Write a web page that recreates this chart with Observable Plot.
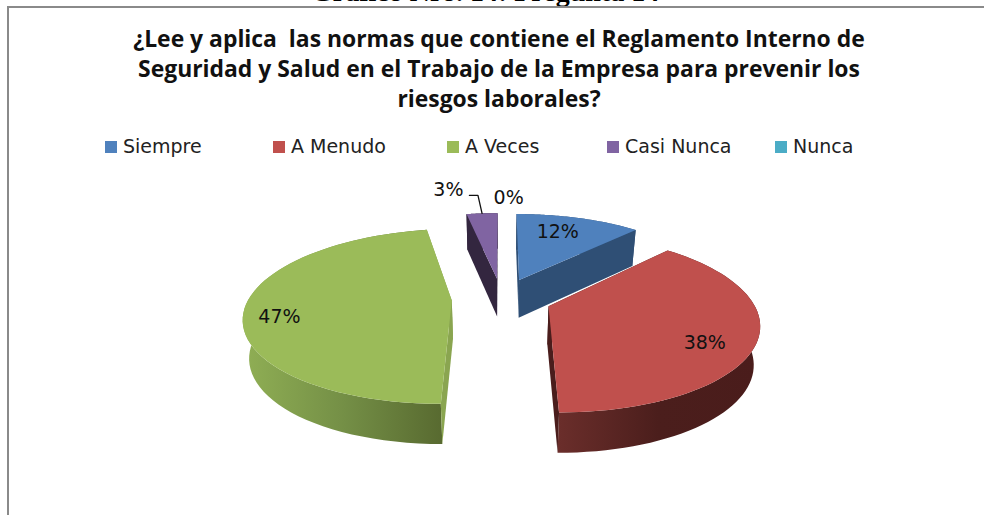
<!DOCTYPE html>
<html><head><meta charset="utf-8">
<script src="https://cdn.jsdelivr.net/npm/d3@7"></script>
<script src="https://cdn.jsdelivr.net/npm/@observablehq/plot@0.6"></script>
<style>
html,body{margin:0;padding:0;background:#fff;overflow:hidden}
#page{position:relative;width:984px;height:515px;overflow:hidden}
#clipped{position:absolute;left:311px;top:-24px;font:bold 28px "Liberation Serif";color:#000;white-space:nowrap}
#frame{position:absolute;left:7px;top:6px;width:990px;height:520px;border:2px solid #8a8a8a;box-sizing:border-box}
#title{position:absolute;left:0;width:998px;top:24px;text-align:center;font:bold 22.9px/30.2px "Open Sans";color:#111;white-space:pre}
#legend span{position:absolute;top:134px;font:19px/24px "DejaVu Sans";color:#222;white-space:nowrap}
#legend i{position:absolute;top:141px;width:12px;height:12px}
#chart{position:absolute;left:0;top:165px}
</style></head><body>
<div id="page">
<div id="clipped">Gráfico Nro. 14: Pregunta 14</div>
<div id="frame"></div>
<div id="title"></div>
<div id="legend"></div>
<div id="chart"></div>
</div>
<script>
const titleLines = ["¿Lee y aplica  las normas que contiene el Reglamento Interno de","Seguridad y Salud en el Trabajo de la Empresa para prevenir los","riesgos laborales?"];
const categories = ["Siempre","A Menudo","A Veces","Casi Nunca","Nunca"];
const values = [12,38,47,3,0];
const colors = ["#4f81bd","#c0504d","#9bbb59","#8064a2","#4bacc6"];
const sideColors = ["#2f4f75","#4a1d1c","#8aa550","#33263f","#2e6b7b"];
const legendX = [105,273,447,607,775];
const labelShift = [-3,8,-8,-7,2];   // degrees away from each slice's bisector
const labelRadius = [.73,.79,.83,1.48,1.29];

const explode = .245, R = 203, S = 84, K = .18, CX = 501, CY = 298 - 165, DEPTH = 38;

document.getElementById("title").textContent = titleLines.join("\n");
document.getElementById("legend").innerHTML = categories.map((c,i)=>
  `<i style="left:${legendX[i]}px;background:${colors[i]}"></i><span style="left:${legendX[i]+18}px">${c}</span>`).join("");

// Perspective view of the pie plane: x,y in pie radii, z = extrusion downwards
const view = () => d3.geoTransform({point(x,y,z){
  const w = 1 + K*y, d = z ? DEPTH/(1+(w-1)*.3) : 0;
  this.stream.point(CX + R*x/w*(z?.975:1), CY - S*y/w + d);
}});

const total = d3.sum(values);
const slices = d3.pie().sort(null).value(d=>d)(values).map((s,i)=>{
  const mid = (s.startAngle+s.endAngle)/2;
  const ox = explode*Math.sin(mid), oy = explode*Math.cos(mid);
  const pt = (a,r=1)=>[ox+r*Math.sin(a), oy+r*Math.cos(a)];
  const arc = d3.range(0,61).map(t=>pt(s.startAngle+(s.endAngle-s.startAngle)*t/60));
  const apex = [ox,oy];
  return {i,mid,ox,oy,pt,arc,apex,value:s.value,cat:categories[i]};
});

const poly = (coords,props)=>({type:"Feature",properties:props,geometry:{type:"Polygon",coordinates:[[...coords,coords[0]]]}});
const down = p=>[p[0],p[1],1];
const faces = [], tops = [];
slices.filter(s=>s.value>0).forEach(s=>{
  const first = s.arc[0], last = s.arc[60];
  const wall = poly([...s.arc,...s.arc.slice().reverse().map(down)],{fill:["#2f4f75","url(#redWall)","url(#greenWall)","#33263f","#2e6b7b"][s.i]});
  faces.push(wall);
  faces.push(poly([s.apex,last,down(last),down(s.apex)],{fill:sideColors[s.i]}));
  faces.push(poly([s.apex,first,down(first),down(s.apex)],{fill:sideColors[s.i]}));
  tops.push(poly([s.apex,...s.arc],{fill:colors[s.i]}));
});

const labels = slices.map((s,i)=>{
  const [x,y] = s.pt(s.mid+labelShift[i]*Math.PI/180,labelRadius[i]);
  return {x,y,text:Math.round(values[i]/total*100)+"%"};
});
const small = slices[3];
const leader = [small.pt(small.mid-.04,1.343),small.pt(small.mid,1.336),small.pt(small.mid,1)];

const gradients = () => {
  const svg = d3.create("svg:g");
  const defs = svg.append("defs");
  const grad = (id,x1,x2,stops)=>{
    const g = defs.append("linearGradient").attr("id",id).attr("gradientUnits","userSpaceOnUse")
      .attr("x1",x1).attr("x2",x2).attr("y1",0).attr("y2",0);
    stops.forEach(([o,c])=>g.append("stop").attr("offset",o).attr("stop-color",c));
  };
  grad("redWall",556,760,[[0,"#6b2e2b"],[.5,"#4b1e1c"],[1,"#4a1c1b"]]);
  grad("greenWall",245,442,[[0,"#8fae54"],[.5,"#748f46"],[1,"#586a30"]]);
  return svg.node();
};

const plot = Plot.plot({
  width:984,height:350,margin:0,
  projection:view,
  marks:[
    gradients,
    Plot.geo({type:"FeatureCollection",features:faces},{fill:d=>d.properties.fill,stroke:null}),
    Plot.geo({type:"FeatureCollection",features:tops},{fill:d=>d.properties.fill,stroke:null}),
    Plot.geo({type:"LineString",coordinates:leader},{stroke:"#111",strokeWidth:1.3,fill:"none"}),
    Plot.text(labels,{x:"x",y:"y",text:"text",fontSize:19,fontFamily:"DejaVu Sans",fill:"#111"})
  ]
});
plot.style.background="transparent";
document.getElementById("chart").append(plot);
</script>
</body></html>
